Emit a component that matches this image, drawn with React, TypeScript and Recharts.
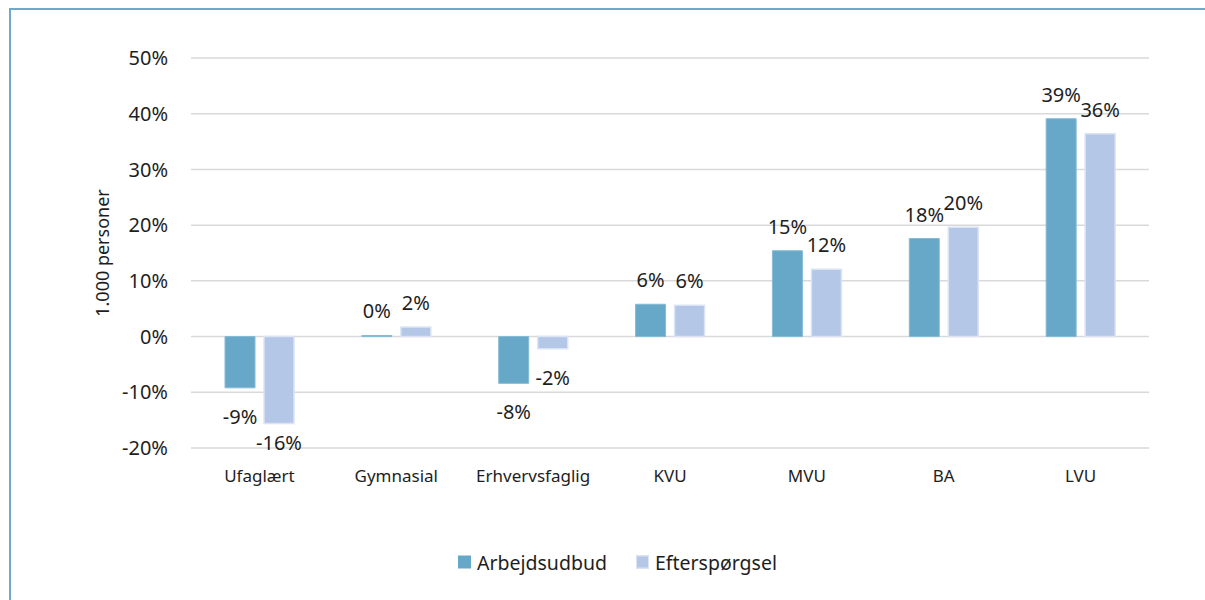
import React from "react";
import { BarChart, Bar, XAxis, YAxis, CartesianGrid, LabelList } from "recharts";

const categories = ["Ufaglært", "Gymnasial", "Erhvervsfaglig", "KVU", "MVU", "BA", "LVU"];
const arbejdsudbud = [-9.2, 0.2, -8.4, 5.8, 15.4, 17.6, 39.1];
const efterspoergsel = [-15.6, 1.7, -2.2, 5.6, 12.1, 19.6, 36.4];
const yTicks = [-20, -10, 0, 10, 20, 30, 40, 50];
const seriesNames = ["Arbejdsudbud", "Efterspørgsel"];
const yAxisTitle = "1.000 personer";

const COLOR_A = "#67a8c8";
const COLOR_A_STROKE = "#86bad5";
const COLOR_B = "#b4c7e7";
const COLOR_B_STROKE = "#dbe4f4";
const TEXT = "#1e1e1e";
const FONT = "'Noto Sans', sans-serif";

const W = 1205;
const H = 600;
const MARGIN = { top: 58, right: 56, bottom: 122, left: 111 };
const X_AXIS_H = 30;
const PLOT_BOTTOM = H - MARGIN.bottom - X_AXIS_H;

const data = categories.map((c, i) => ({
  name: c,
  a: arbejdsudbud[i],
  b: efterspoergsel[i],
}));

const renderLabel = (props: any) => {
  const { x, y, width, height, value } = props;
  const v = Number(value);
  const top = Math.min(y, y + height);
  const bottom = Math.max(y, y + height);
  const cx = x + width / 2;
  let ty: number;
  if (v >= 0) {
    ty = top - 17;
  } else {
    ty = Math.min(bottom + 36, PLOT_BOTTOM + 2);
  }
  return (
    <text
      x={cx}
      y={ty}
      textAnchor="middle"
      fill={TEXT}
      fontSize={20}
      fontFamily={FONT}
    >
      {`${Math.round(v)}%`}
    </text>
  );
};

export default function App() {
  return (
    <div
      style={{
        position: "absolute",
        left: 0,
        top: 0,
        width: W,
        height: H,
        overflow: "hidden",
        background: "#ffffff",
        fontFamily: FONT,
      }}
    >
      <div
        style={{
          position: "absolute",
          left: 9,
          top: 8,
          width: 1250,
          height: 700,
          border: "2px solid #6ea9c9",
          boxSizing: "border-box",
        }}
      />
      <div style={{ position: "absolute", left: 0, top: 0 }}>
        <BarChart
          width={W}
          height={H}
          data={data}
          margin={MARGIN}
          barSize={30}
          barGap={9}
        >
          <CartesianGrid vertical={false} stroke="#d9d9d9" strokeWidth={1.5} />
          <XAxis
            dataKey="name"
            height={X_AXIS_H}
            axisLine={false}
            tickLine={false}
            tickSize={0}
            tickMargin={22}
            tick={{ fill: TEXT, fontSize: 17, fontFamily: FONT }}
            interval={0}
          />
          <YAxis
            width={80}
            domain={[-20, 50]}
            ticks={yTicks}
            axisLine={false}
            tickLine={false}
            tickSize={0}
            tickMargin={23}
            tickFormatter={(v: number) => `${v}%`}
            tick={{ fill: TEXT, fontSize: 20, fontFamily: FONT }}
          />
          <Bar
            dataKey="a"
            name={seriesNames[0]}
            fill={COLOR_A}
            stroke={COLOR_A_STROKE}
            strokeWidth={1}
            isAnimationActive={false}
          >
            <LabelList dataKey="a" content={renderLabel} />
          </Bar>
          <Bar
            dataKey="b"
            name={seriesNames[1]}
            fill={COLOR_B}
            stroke={COLOR_B_STROKE}
            strokeWidth={1.5}
            isAnimationActive={false}
          >
            <LabelList dataKey="b" content={renderLabel} />
          </Bar>
        </BarChart>
      </div>
      <div
        style={{
          position: "absolute",
          left: 102,
          top: 253,
          transform: "translate(-50%, -50%) rotate(-90deg)",
          whiteSpace: "nowrap",
          fontSize: 18,
          color: TEXT,
          lineHeight: 1,
        }}
      >
        {yAxisTitle}
      </div>
      <div
        style={{
          position: "absolute",
          left: 458,
          top: 562,
          transform: "translateY(-50%)",
          display: "flex",
          alignItems: "center",
          fontSize: 19.5,
          color: TEXT,
          whiteSpace: "nowrap",
        }}
      >
        <span style={{ display: "inline-block", width: 13, height: 13, background: COLOR_A }} />
        <span style={{ marginLeft: 6 }}>{seriesNames[0]}</span>
        <span
          style={{
            display: "inline-block",
            width: 11,
            height: 11,
            background: COLOR_B,
            border: `1px solid ${COLOR_B_STROKE}`,
            marginLeft: 29,
          }}
        />
        <span style={{ marginLeft: 6 }}>{seriesNames[1]}</span>
      </div>
    </div>
  );
}
